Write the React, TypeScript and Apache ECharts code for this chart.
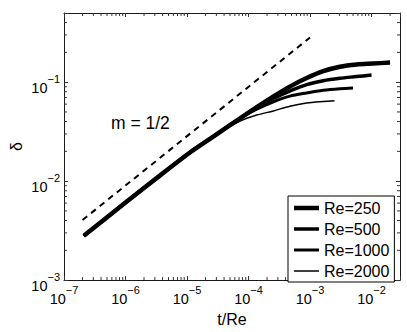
import React, { useEffect, useRef } from "react";
import * as echarts from "echarts";

// ---- data ----
const X_MIN = 1e-7;
const X_MAX = 0.029;
const Y_MIN = 1e-3;
const Y_MAX = 0.5;

const legendNames = ["Re=250", "Re=500", "Re=1000", "Re=2000"];
const lineWidths = [4.5, 3.5, 3, 1.5];

const t250 = [2.1e-7, 1e-6, 3.7e-6, 1.13e-5, 2.9e-5, 7.3e-5, 1.36e-4, 2.54e-4, 4.7e-4, 8.8e-4, 1.64e-3, 3.05e-3, 5.7e-3, 1.05e-2, 2e-2];
const d250 = [0.0028, 0.00607, 0.0115, 0.0196, 0.0292, 0.0432, 0.0559, 0.0718, 0.0902, 0.11, 0.129, 0.143, 0.1508, 0.1542, 0.1578];

const t500 = [2.1e-7, 1e-6, 3.7e-6, 1.13e-5, 2.9e-5, 7.3e-5, 1.36e-4, 2.54e-4, 4.7e-4, 8.8e-4, 1.64e-3, 3.05e-3, 5.7e-3, 1e-2];
const d500 = [0.0028, 0.00607, 0.0115, 0.0196, 0.0292, 0.0432, 0.0553, 0.0687, 0.0814, 0.0945, 0.1035, 0.1095, 0.1139, 0.1181];

const t1000 = [2.1e-7, 1e-6, 3.7e-6, 1.13e-5, 2.9e-5, 7.3e-5, 1.36e-4, 2.54e-4, 4.7e-4, 8.8e-4, 1.64e-3, 3.05e-3, 5e-3];
const d1000 = [0.0028, 0.00607, 0.0115, 0.0196, 0.0292, 0.0432, 0.0534, 0.0634, 0.0722, 0.0778, 0.0828, 0.0858, 0.0872];

const t2000 = [2.1e-7, 1e-6, 3.7e-6, 1.13e-5, 2.9e-5, 7.3e-5, 1.36e-4, 2.54e-4, 4.7e-4, 8.8e-4, 1.64e-3, 2.5e-3];
const d2000 = [0.0028, 0.00607, 0.0115, 0.0196, 0.0292, 0.0405, 0.0465, 0.0512, 0.0572, 0.0615, 0.0637, 0.0648];

const tRef = [2e-7, 1e-3];
const dRef = [0.00405, 0.283];

const xDecades = [1e-7, 1e-6, 1e-5, 1e-4, 1e-3, 1e-2];
const yDecades = [1e-3, 1e-2, 1e-1];
const minorMultipliers = [2, 3, 4, 5, 6, 7, 8, 9];

const FONT = "Liberation Sans, Arial, Helvetica, sans-serif";

const zip = (t: number[], d: number[]) => t.map((v, i) => [v, d[i]]);

const expLabel = (v: number) => {
  const e = Math.log10(v);
  const r = Math.round(e);
  if (Math.abs(e - r) > 1e-6) return "";
  return `{b|10}{s|${r < 0 ? "\u2212" : ""}${Math.abs(r)}}`;
};

const richX = {
  b: { fontSize: 14.5, fontFamily: FONT, color: "#000", padding: [7, 0, 0, 0] },
  s: { fontSize: 11, fontFamily: FONT, color: "#000", verticalAlign: "top" },
};
const richY = {
  b: { fontSize: 14.5, fontFamily: FONT, fill: "#000", padding: [7, 0, 0, 0] },
  s: { fontSize: 11, fontFamily: FONT, fill: "#000", verticalAlign: "top" },
};

export default function App() {
  const ref = useRef<HTMLDivElement>(null);
  useEffect(() => {
    if (!ref.current) return;
    const chart = echarts.init(ref.current, null, { renderer: "svg" });

    const minorData: number[][] = [];
    xDecades.forEach((d) =>
      minorMultipliers.forEach((m) => {
        const v = d * m;
        if (v < X_MAX) minorData.push([v, 0.01, 0]);
      })
    );
    yDecades.forEach((d) =>
      minorMultipliers.forEach((m) => {
        const v = d * m;
        if (v < Y_MAX) minorData.push([1e-4, v, 1]);
      })
    );

    const curves = [zip(t250, d250), zip(t500, d500), zip(t1000, d1000), zip(t2000, d2000)];

    const axisLine = { show: true, onZero: false, lineStyle: { color: "#1a1a1a", width: 1 } };
    const tick = { show: true, inside: true, length: 4, lineStyle: { color: "#333" } };

    const option: any = {
      animation: false,
      textStyle: { fontFamily: FONT },
      grid: { left: 63, right: 7, top: 13, bottom: 46, containLabel: false },
      xAxis: [
        {
          type: "log",
          min: X_MIN,
          max: X_MAX,
          position: "bottom",
          axisLine,
          axisTick: tick,
          splitLine: { show: false },
          axisLabel: {
            formatter: expLabel,
            rich: richX,
            margin: 4,
            fontSize: 14.5,
            color: "#000",
            hideOverlap: false,
          },
          name: "t/Re",
          nameLocation: "middle",
          nameGap: 30,
          nameTextStyle: { fontSize: 16, color: "#000", fontFamily: FONT },
        },
        {
          type: "log",
          min: X_MIN,
          max: X_MAX,
          position: "top",
          axisLine,
          axisTick: tick,
          splitLine: { show: false },
          axisLabel: { show: false },
        },
      ],
      yAxis: [
        {
          type: "log",
          min: Y_MIN,
          max: Y_MAX,
          position: "left",
          axisLine,
          axisTick: tick,
          splitLine: { show: false },
          axisLabel: { show: false },
          name: "\u03b4",
          nameLocation: "middle",
          nameGap: 40,
          nameTextStyle: { fontSize: 16, color: "#000", fontFamily: FONT },
        },
        {
          type: "log",
          min: Y_MIN,
          max: Y_MAX,
          position: "right",
          axisLine,
          axisTick: tick,
          splitLine: { show: false },
          axisLabel: { show: false },
        },
      ],
      legend: {
        orient: "vertical",
        left: 288,
        top: 196,
        padding: [4, 5, 3, 6],
        itemGap: 5,
        itemWidth: 25,
        itemHeight: 14,
        borderColor: "#000",
        borderWidth: 1,
        backgroundColor: "#fff",
        textStyle: { fontSize: 16, color: "#000", fontFamily: FONT },
        itemStyle: { borderWidth: 0 },
        data: legendNames.map((n, i) => ({
          name: n,
          icon: `path://M0,0H25V${lineWidths[i]}H0Z`,
        })),
      },
      graphic: [
        {
          type: "text",
          left: 111,
          top: 114,
          style: { text: "m = 1/2", font: `17.5px ${FONT}`, fill: "#000" },
        },
      ],
      series: [
        ...curves.map((c, i) => ({
          type: "line",
          name: legendNames[i],
          data: c,
          xAxisIndex: 0,
          yAxisIndex: 0,
          showSymbol: false,
          symbol: "none",
          smooth: 0.3,
          color: "#000",
          lineStyle: { color: "#000", width: lineWidths[i] },
        })),
        {
          type: "line",
          name: "slope",
          data: zip(tRef, dRef),
          showSymbol: false,
          symbol: "none",
          color: "#000",
          lineStyle: { color: "#000", width: 2, type: [6, 5] },
        },
        {
          type: "custom",
          name: "yLabels",
          silent: true,
          clip: false,
          encode: { x: 0, y: 1 },
          data: yDecades.map((v) => [1e-4, v]),
          renderItem: (_p: any, api: any) => {
            const v = api.value(1);
            const p = api.coord([X_MIN, v]);
            return {
              type: "text",
              x: p[0] - 4,
              y: p[1] + 2,
              style: {
                text: expLabel(v),
                rich: richY,
                align: "right",
                verticalAlign: "middle",
                fill: "#000",
                fontSize: 14.5,
                fontFamily: FONT,
              },
            };
          },
        },
        {
          type: "custom",
          name: "minorTicks",
          silent: true,
          clip: false,
          encode: { x: 0, y: 1 },
          data: minorData,
          renderItem: (_p: any, api: any) => {
            const v0 = api.value(0);
            const v1 = api.value(1);
            const kind = api.value(2);
            const L = 3;
            const st = { stroke: "#333", lineWidth: 1 };
            if (kind === 0) {
              const b = api.coord([v0, Y_MIN]);
              const t = api.coord([v0, Y_MAX]);
              return {
                type: "group",
                children: [
                  { type: "line", shape: { x1: b[0], y1: b[1], x2: b[0], y2: b[1] - L }, style: st },
                  { type: "line", shape: { x1: t[0], y1: t[1], x2: t[0], y2: t[1] + L }, style: st },
                ],
              };
            }
            const l = api.coord([X_MIN, v1]);
            const r = api.coord([X_MAX, v1]);
            return {
              type: "group",
              children: [
                { type: "line", shape: { x1: l[0], y1: l[1], x2: l[0] + L, y2: l[1] }, style: st },
                { type: "line", shape: { x1: r[0], y1: r[1], x2: r[0] - L, y2: r[1] }, style: st },
              ],
            };
          },
        },
      ],
    };
    chart.setOption(option);
    return () => chart.dispose();
  }, []);
  return (
    <div
      ref={ref}
      style={{ position: "fixed", left: 0, top: 0, width: 407, height: 332, background: "#fff" }}
    />
  );
}
